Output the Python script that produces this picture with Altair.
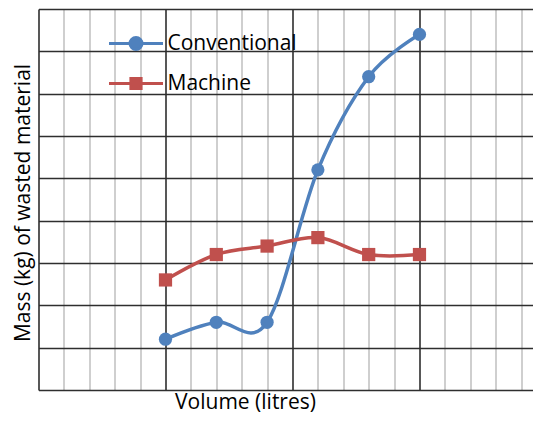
import altair as alt
import pandas as pd

# ---- data ----
volume = [1.0, 1.4, 1.8, 2.2, 2.6, 3.0]
conventional = [1.2, 1.6, 1.6, 5.2, 7.4, 8.4]
machine = [2.6, 3.2, 3.4, 3.6, 3.2, 3.2]
series_names = ["Conventional", "Machine"]
series_colors = ["#4F81BD", "#C0504D"]
x_grid = [0.0, 0.2, 0.4, 0.6, 0.8, 1.0, 1.2, 1.4, 1.6, 1.8, 2.0,
          2.2, 2.4, 2.6, 2.8, 3.0, 3.2, 3.4, 3.6, 3.8]
y_grid = [0, 1, 2, 3, 4, 5, 6, 7, 8, 9]
x_title = "Volume (litres)"
y_title = "Mass (kg) of wasted material"

FONT = "Open Sans"
FS = 21
PLOT_W = 494
PLOT_H = 381

rows = []
for v, c in zip(volume, conventional):
    rows.append({"volume": v, "mass": c, "series": series_names[0]})
for v, m in zip(volume, machine):
    rows.append({"volume": v, "mass": m, "series": series_names[1]})
df = pd.DataFrame(rows)

is_major = "abs(datum.value - round(datum.value)) < 0.01"

x_enc = alt.X(
    "volume:Q",
    scale=alt.Scale(domain=[0, 3.89], nice=False, zero=False),
    axis=alt.Axis(
        values=x_grid, labels=False, ticks=False, domain=False, grid=True,
        gridColor={"condition": {"test": is_major, "value": "#2e2e2e"}, "value": "#c3c3c3"},
        gridWidth=1.6,
        title=x_title, titleFont=FONT, titleFontSize=FS, titleFontWeight="normal",
        titleColor="black", titleX=206.5, titleY=18.5, titleAlign="center",
        titleBaseline="alphabetic", titleAnchor="start",
    ),
)
y_enc = alt.Y(
    "mass:Q",
    scale=alt.Scale(domain=[0, 9], nice=False, zero=False),
    axis=alt.Axis(
        values=y_grid, labels=False, ticks=False, domain=False, grid=True,
        gridColor="#2e2e2e", gridWidth=1.6,
        title=y_title, titleFont=FONT, titleFontSize=FS, titleFontWeight="normal",
        titleColor="black", titleX=-9.2, titleY=193.5, titleAngle=270,
        titleAlign="center", titleBaseline="alphabetic", titleAnchor="start",
    ),
)

circ_path = "M-3.6,0H3.6M-0.8,0A0.8,0.8,0,1,0,0.8,0A0.8,0.8,0,1,0,-0.8,0Z"
sq_path = "M-3.6,0H3.6M-0.68,-0.68H0.68V0.68H-0.68Z"

common_leg = dict(
    orient="none", title=None,
    labelFont=FONT, labelFontSize=FS, labelColor="black",
    symbolSize=225, symbolStrokeWidth=3, symbolOpacity=1,
    labelOffset=21,
)

leg_conv = alt.Legend(
    values=[series_names[0]], symbolType=circ_path,
    symbolFillColor=series_colors[0], symbolStrokeColor=series_colors[0],
    legendX=87, legendY=24, **common_leg,
)
leg_mach = alt.Legend(
    values=[series_names[1]], symbolType=sq_path,
    symbolFillColor=series_colors[1], symbolStrokeColor=series_colors[1],
    legendX=87, legendY=64, **common_leg,
)

lines = alt.Chart(df).mark_line(
    interpolate="cardinal", tension=0, strokeWidth=3.5
).encode(
    x=x_enc, y=y_enc,
    color=alt.Color("series:N", scale=alt.Scale(domain=series_names, range=series_colors),
                    legend=leg_conv),
)

# reversed domain order keeps this legend separate from the colour legend
points = alt.Chart(df).mark_point(filled=True, opacity=1, size=175).encode(
    x=x_enc, y=y_enc,
    fill=alt.Fill("series:N",
                  scale=alt.Scale(domain=series_names[::-1], range=series_colors[::-1]),
                  legend=leg_mach),
    shape=alt.condition(
        "datum.series === 'Conventional'", alt.value("circle"), alt.value("square")
    ),
)

chart = alt.layer(lines, points).properties(
    width=PLOT_W, height=PLOT_H,
    autosize=alt.AutoSizeParams(type="none"),
    padding={"left": 30.5, "top": 1, "right": 0.5, "bottom": 406 - 1 - PLOT_H},
).configure_view(stroke=None)

chart.save("out.html", embed_options={"renderer": "svg", "actions": False})
